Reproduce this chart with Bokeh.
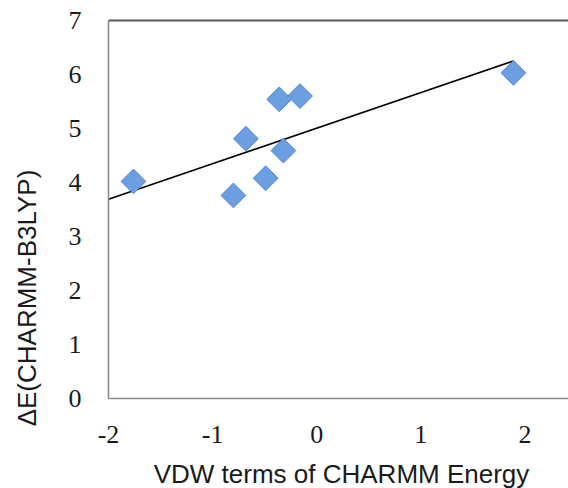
import numpy as np
from bokeh.plotting import figure
from bokeh.models import (FixedTicker, CustomJSTickFormatter, LinearAxis, Label, Range1d)
from bokeh.embed import file_html
from bokeh.resources import INLINE

# ---- data ----
vdw_x = [-1.76, -0.68, -0.36, -0.16, -0.32, -0.49, -0.80, 1.89]
delta_e = [4.02, 4.81, 5.54, 5.60, 4.59, 4.08, 3.76, 6.03]
trend_x = [-2.0, 1.89]
trend_y = [3.69, 6.25]

x_ticks = [-2, -1, 0, 1, 2]
x_tick_labels = ["-2", "-1", "0", "1", "2"]
y_ticks = [0, 1, 2, 3, 4, 5, 6, 7]
y_tick_labels = ["0", "1", "2", "3", "4", "5", "6", "7"]

x_title = "VDW terms of CHARMM Energy"
y_title = "ΔE(CHARMM-B3LYP)"

# plot-area limits (the visible box of the chart)
x_min, x_max = -2.0, 2.419
y_min, y_max = 0.0, 7.0

title_font = "Liberation Sans"
tick_font = "Liberation Serif"
txt_color = "#1a1a1a"

# The frame covers the whole canvas; the axes sit at fixed data locations
# so that every text lies inside the frame.
p = figure(width=568, height=488, output_backend="svg", toolbar_location=None,
           x_range=Range1d(-3.0375, 2.419), y_range=Range1d(-1.667, 7.370),
           x_axis_type=None, y_axis_type=None,
           min_border=0, min_border_left=0, min_border_right=0,
           min_border_top=0, min_border_bottom=0)
p.background_fill_color = "white"
p.border_fill_color = "white"
p.outline_line_color = None

fmt_code = "const i = tvals.indexOf(tick); return i >= 0 ? tlabs[i] : '';"

xa = LinearAxis(fixed_location=y_min, bounds=(x_min, x_max),
                ticker=FixedTicker(ticks=x_ticks),
                formatter=CustomJSTickFormatter(args=dict(tvals=x_ticks, tlabs=x_tick_labels),
                                                code=fmt_code))
ya = LinearAxis(fixed_location=x_min, bounds=(y_min, y_max),
                ticker=FixedTicker(ticks=y_ticks),
                formatter=CustomJSTickFormatter(args=dict(tvals=y_ticks, tlabs=y_tick_labels),
                                                code=fmt_code))
for ax in (xa, ya):
    ax.major_tick_line_color = None
    ax.minor_tick_line_color = None
    ax.major_tick_out = 0
    ax.major_tick_in = 0
    ax.axis_line_color = "#8c8c8c"
    ax.axis_line_width = 1.6
    ax.major_label_text_font = tick_font
    ax.major_label_text_font_size = "26px"
    ax.major_label_text_color = txt_color
xa.major_label_standoff = 28
ya.major_label_standoff = 27
p.add_layout(xa, "below")
p.add_layout(ya, "left")

top = LinearAxis(fixed_location=y_max, bounds=(x_min, x_max),
                 ticker=FixedTicker(ticks=[]), axis_line_color="#555555", axis_line_width=2,
                 major_tick_line_color=None, minor_tick_line_color=None,
                 major_label_text_font_size="0px")
p.add_layout(top, "above")

p.line(trend_x, trend_y, line_color="black", line_width=1.6)
p.scatter(vdw_x, delta_e, marker="square", angle=np.pi / 4, size=17.5,
          fill_color="#6b9fe2", line_color="#5285cc", line_width=1)

p.add_layout(Label(x=26, y=190.5, x_units="screen", y_units="screen", text=y_title,
                   angle=np.pi / 2, text_font=title_font, text_font_size="26px",
                   text_color=txt_color, text_align="center", text_baseline="middle"))
p.add_layout(Label(x=341, y=15, x_units="screen", y_units="screen", text=x_title,
                   text_font=title_font, text_font_size="26px", text_color=txt_color,
                   text_align="center", text_baseline="middle"))

open("out.html", "w").write(file_html(p, INLINE))
